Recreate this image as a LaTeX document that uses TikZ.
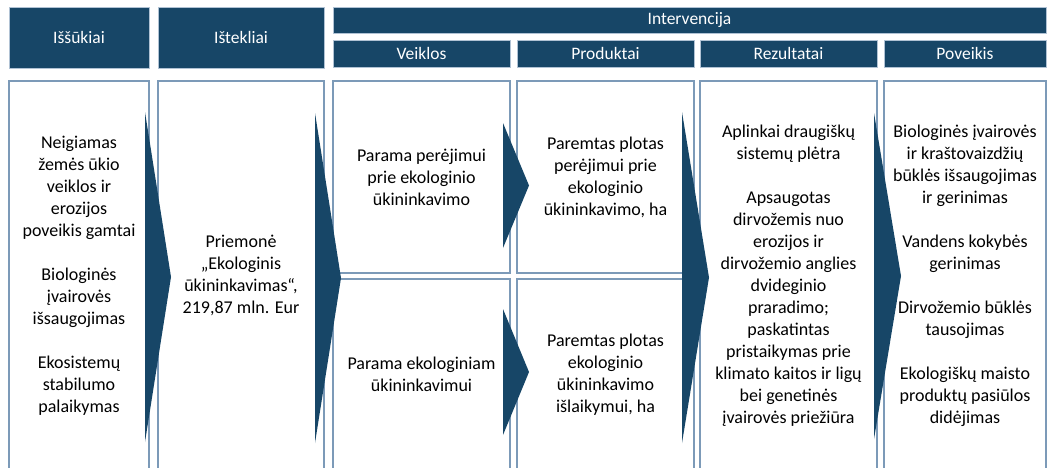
\documentclass[tikz,border=0pt]{standalone}
\usepackage{fontspec}
\setmainfont{Carlito}
\usepackage{tikz}

\definecolor{hdrblue}{RGB}{23,70,103}
\definecolor{cellline}{RGB}{124,154,184}

\tikzset{
    hdr/.style={fill=hdrblue, draw=cellline!60, line width=0.6pt, text=white,
        inner sep=0pt, font=\fontsize{17.5}{21}\selectfont},
    cell/.style={fill=white, draw=cellline, line width=1.2pt, align=center,
        inner sep=0pt, font=\fontsize{18}{22}\selectfont},
}

\begin{document}
\begin{tikzpicture}[x=1pt, y=-1pt]
            % page frame
            \clip (0,0) rectangle (1051,467);
            \fill[white] (0,0) rectangle (1051,467);

            % headers
            \node[hdr, minimum width=140pt, minimum height=61pt] (chal) at (79,37.5) {Iššūkiai};
            \node[hdr, minimum width=166pt, minimum height=61pt] (res) at (241,37.5) {Ištekliai};
            \node[hdr, minimum width=713pt, minimum height=26pt] (interv) at (689.5,20) {Intervencija};
            \node[hdr, minimum width=177pt, minimum height=27pt] (act) at (421.5,53.5) {Veiklos};
            \node[hdr, minimum width=177pt, minimum height=27pt] (outp) at (605.5,53.5) {Produktai};
            \node[hdr, minimum width=177pt, minimum height=27pt] (resu) at (788.5,53.5) {Rezultatai};
            \node[hdr, minimum width=162pt, minimum height=27pt] (imp) at (965,53.5) {Poveikis};

            % body cells
            \node[cell, minimum width=140pt, minimum height=389pt] (chalbox) at (79,275.5)
                {Neigiamas\\ žemės ūkio\\ veiklos ir\\ erozijos\\ poveikis gamtai\\[22pt]
                 Biologinės\\ įvairovės\\ išsaugojimas\\[22pt]
                 Ekosistemų\\ stabilumo\\ palaikymas};
            \node[cell, minimum width=166pt, minimum height=389pt] (resbox) at (241,275.5)
                {Priemonė\\ „Ekologinis\\ ūkininkavimas“,\\ 219,87 mln. Eur};
            \node[cell, minimum width=177pt, minimum height=192pt] (acttop) at (421.5,177)
                {Parama perėjimui\\ prie ekologinio\\ ūkininkavimo};
            \node[cell, minimum width=177pt, minimum height=191pt] (actbot) at (421.5,374.5)
                {Parama ekologiniam\\ ūkininkavimui};
            \node[cell, minimum width=177pt, minimum height=192pt] (outptop) at (605.5,177)
                {Paremtas plotas\\ perėjimui prie\\ ekologinio\\ ūkininkavimo, ha};
            \node[cell, minimum width=177pt, minimum height=191pt] (outpbot) at (605.5,374.5)
                {Paremtas plotas\\ ekologinio\\ ūkininkavimo\\ išlaikymui, ha};
            \node[cell, minimum width=177pt, minimum height=389pt] (resubox) at (788.5,275.5)
                {Aplinkai draugiškų\\ sistemų plėtra\\[22pt]
                 Apsaugotas\\ dirvožemis nuo\\ erozijos ir\\ dirvožemio anglies\\ dvideginio\\
                 praradimo;\\ paskatintas\\ pristaikymas prie\\ klimato kaitos ir ligų\\
                 bei genetinės\\ įvairovės priežiūra};
            \node[cell, minimum width=162pt, minimum height=389pt] (impbox) at (965,275.5)
                {Biologinės įvairovės\\ ir kraštovaizdžių\\ būklės išsaugojimas\\ ir gerinimas\\[22pt]
                 Vandens kokybės\\ gerinimas\\[22pt]
                 Dirvožemio būklės\\ tausojimas\\[22pt]
                 Ekologiškų maisto\\ produktų pasiūlos\\ didėjimas};

            % chevrons
            \foreach \xl/\yt/\yb/\xt in {145/112/442/171, 315/113/443/341, 503/123/248/529,
                    503/309/435/529, 682/112/443/709, 874/113/439/901}
                \fill[hdrblue] (\xl,\yt) -- (\xt,{(\yt+\yb)/2}) -- (\xl,\yb) -- cycle;
\end{tikzpicture}
\end{document}
